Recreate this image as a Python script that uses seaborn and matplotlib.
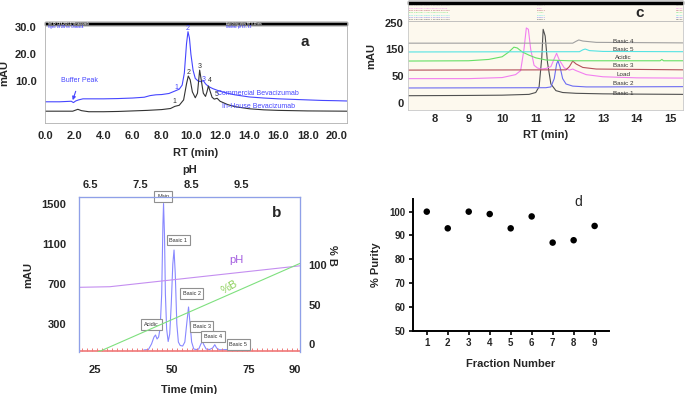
import numpy as np
import pandas as pd
import matplotlib
matplotlib.use("Agg")
import matplotlib.pyplot as plt
import seaborn as sns
from matplotlib.patches import Rectangle

# ---- panel a : analytical CEX traces (RT in min, mAU) ----
rt_com = [0.0, 1.0, 1.8, 1.95, 2.1, 2.3, 2.6, 3.0, 4.0, 5.0, 6.0, 6.8, 7.2, 7.6, 8.0, 8.5, 8.9,
          9.2, 9.4, 9.55, 9.7, 9.8, 9.9, 10.0, 10.15, 10.3, 10.5, 10.7, 10.85, 11.0, 11.2,
          11.5, 12.0, 12.5, 13.0, 14.0, 15.0, 16.0, 17.0, 18.0, 19.0, 20.0, 20.7]
mau_com = [2.3, 2.3, 2.5, 2.0, 2.6, 3.0, 3.4, 3.4, 3.4, 3.5, 3.7, 4.0, 4.6, 4.9, 5.0, 5.4, 6.3,
           7.0, 8.5, 13.0, 24.0, 28.4, 26.0, 20.0, 14.0, 11.0, 10.0, 9.8, 10.2, 9.0, 8.0,
           7.2, 6.2, 5.5, 4.9, 4.1, 3.7, 3.4, 3.2, 3.0, 2.8, 2.7, 2.6]
rt_inh = [0.0, 1.9, 2.1, 2.25, 2.5, 3.0, 4.0, 5.0, 6.0, 7.0, 8.0, 8.6, 8.9, 9.2, 9.5, 9.7,
          9.82, 9.95, 10.1, 10.3, 10.45, 10.6, 10.72, 10.85, 11.0, 11.1, 11.2, 11.3, 11.45,
          11.6, 11.8, 12.0, 12.5, 13.0, 14.0, 15.0, 16.0, 18.0, 20.7]
mau_inh = [-1.2, -1.2, -0.8, -0.5, -1.0, -1.4, -1.4, -1.3, -1.1, -0.9, -0.6, -0.2, 0.6, 1.0,
           3.0, 9.0, 11.9, 10.5, 6.0, 3.8, 5.5, 14.1, 10.0, 5.5, 4.3, 6.0, 8.2, 6.5, 4.0,
           3.3, 3.6, 2.5, 1.3, 0.5, -0.3, -0.7, -0.9, -1.1, -1.2]
peaks_com = [("1", 9.0, 7.6), ("2", 9.8, 29.6), ("3", 10.85, 10.6)]
peaks_inh = [("1", 8.9, 2.3), ("2", 9.85, 13.1), ("3", 10.6, 15.5), ("4", 11.3, 10.3), ("5", 11.75, 5.0)]

# ---- panel b : preparative pH gradient run ----
time_b = [41.0, 42.5, 43.5, 44.3, 44.8, 45.3, 45.8, 46.3, 46.8, 47.2, 47.4, 47.7, 48.0, 48.4,
          48.9, 49.4, 49.9, 50.4, 50.8, 51.2, 51.7, 52.2, 52.8, 53.6, 54.3, 54.9, 55.5, 56.0,
          56.5, 57.2, 58.0, 58.8, 59.5, 60.0, 60.5, 61.2, 62.3, 63.3, 64.0, 64.6, 65.5, 68.5,
          69.0, 69.5, 72.0]
mau_b = [40, 45, 100, 170, 190, 150, 170, 260, 600, 1300, 1505, 1200, 600, 250, 125, 200, 500,
         900, 1040, 800, 300, 120, 85, 80, 120, 300, 470, 300, 120, 50, 45, 50, 100, 126, 90,
         50, 45, 60, 93, 60, 42, 45, 55, 45, 40]
ph_time = [20.0, 30.0, 91.6]
ph_trace = [667, 673, 882]
pctb_time = [26.0, 91.6]
pctb = [-10, 102]
frac_marks = [21.0, 22.6, 24.2, 25.9, 27.5, 29.1, 30.7, 32.3, 33.9, 35.6, 37.2, 38.8, 40.4,
              42.0, 43.7, 45.3, 46.9, 48.5, 50.1, 51.8, 53.4, 55.0, 56.6, 58.2, 59.9, 61.5,
              63.1, 64.7, 66.3, 68.0, 69.6, 71.2, 72.8, 74.4, 76.1, 77.7, 79.3, 80.9, 82.5,
              84.2, 85.8, 87.4, 89.0, 90.6]
peak_boxes = [("Main", 47.3, 1573), ("Basic 1", 52.2, 1140), ("Basic 2", 56.5, 607),
              ("Acidic", 43.5, 297), ("Basic 3", 59.7, 273), ("Basic 4", 63.5, 173),
              ("Basic 5", 71.6, 97)]

# ---- panel c : overlay of collected fractions (stacked offsets) ----
traces_c = {
    "Basic 1": ([7.2, 9.0, 10.0, 10.8, 11.0, 11.1, 11.18, 11.22, 11.28, 11.35, 11.45, 11.6,
                 11.8, 12.2, 13.0, 14.0, 15.4],
                [-24, -23, -22, -19, -12, 10, 120, 225, 200, 100, 20, -5, -12, -15, -17, -18, -19]),
    "Basic 2": ([7.2, 11.3, 11.45, 11.55, 11.62, 11.66, 11.72, 11.8, 11.9, 12.1, 12.5, 13.0, 15.4],
                [5, 6, 9, 40, 95, 107, 85, 40, 20, 12, 9, 9, 10]),
    "Load": ([7.2, 9.0, 10.0, 10.4, 10.55, 10.65, 10.72, 10.78, 10.85, 10.95, 11.05, 11.15,
              11.3, 11.45, 11.55, 11.62, 11.7, 11.85, 12.0, 12.1, 12.2, 12.5, 13.0, 14.0, 15.4],
             [40, 40, 44, 55, 70, 150, 230, 225, 150, 90, 80, 76, 78, 85, 115, 135, 110, 80,
              72, 76, 70, 55, 47, 43, 42]),
    "Basic 3": ([7.2, 11.9, 12.0, 12.1, 12.2, 12.4, 12.8, 15.4],
                [72, 73, 85, 106, 95, 82, 76, 73]),
    "Acidic": ([7.2, 9.0, 9.6, 10.0, 10.2, 10.35, 10.45, 10.6, 10.8, 11.0, 11.3, 12.0, 14.7,
                14.75, 14.8, 15.4],
               [106, 107, 112, 122, 140, 158, 155, 140, 128, 118, 110, 107, 107, 112, 107, 107]),
    "Basic 5": ([7.2, 12.3, 12.4, 12.47, 12.6, 13.0, 15.4],
                [140, 141, 148, 151, 145, 142, 141]),
    "Basic 4": ([7.2, 12.1, 12.2, 12.28, 12.4, 12.8, 15.4],
                [173, 173, 180, 185, 181, 176, 174]),
}
colors_c = {"Basic 1": "#505050", "Basic 2": "#6d6df2", "Load": "#f27ff0", "Basic 3": "#b4505a",
            "Acidic": "#66e066", "Basic 5": "#55e3e3", "Basic 4": "#a0a0a0"}
label_y_c = {"Basic 4": 179, "Basic 5": 148, "Acidic": 120, "Basic 3": 89, "Load": 54,
             "Basic 2": 21, "Basic 1": -15}

# ---- panel d : purity of fractions ----
fraction = [1, 2, 3, 4, 5, 6, 7, 8, 9]
purity = [100, 93, 100, 99, 93, 98, 87, 88, 94]

sns.set_theme(style="white")
plt.rcParams['font.family'] = ['Liberation Sans', 'DejaVu Sans']
plt.rcParams['font.weight'] = 'bold'

fig = plt.figure(figsize=(6.85, 3.94), dpi=100)

# ================= panel a =================
blue_a = "#4646ff"
ax_a = fig.add_axes([0.0657, 0.6878, 0.4409, 0.2563])
sns.lineplot(x=rt_com, y=mau_com, ax=ax_a, color=blue_a, lw=0.8, sort=False)
sns.lineplot(x=rt_inh, y=mau_inh, ax=ax_a, color="#333333", lw=0.8, sort=False)
ax_a.set_xlim(0, 20.7)
ax_a.set_ylim(-5.6, 32)
ax_a.set_xticks(np.arange(0, 20.1, 2))
ax_a.set_xticklabels([f"{v:.1f}" for v in np.arange(0, 20.1, 2)], fontsize=8, fontweight='bold')
ax_a.set_yticks([10, 20, 30])
ax_a.set_yticklabels(["10.0", "20.0", "30.0"], fontsize=8, fontweight='bold')
ax_a.tick_params(length=0, pad=6)
ax_a.set_xlabel("RT (min)", fontsize=8, fontweight='bold', labelpad=5)
ax_a.set_ylabel("mAU", fontsize=8, fontweight='bold', labelpad=4)
for s in ax_a.spines.values():
    s.set_color("#b0b0b0")
    s.set_linewidth(0.6)
ax_a.add_patch(Rectangle((0, 0.97), 1, 0.03, transform=ax_a.transAxes, color="black", clip_on=False))
ax_a.axhline(30.9, color="#b0b0b0", lw=0.5)
ax_a.text(0.01, 0.985, "Intl. ID: CEX-2016-07 Bevacizumab", transform=ax_a.transAxes, fontsize=1.8,
          color="white", va='center')
ax_a.text(0.6, 0.985, "Auto-Integration: RT 0-20 min", transform=ax_a.transAxes, fontsize=1.8,
          color="white", va='center')
ax_a.text(0.01, 0.955, "Signal: UV 280 nm  Channel A", transform=ax_a.transAxes, fontsize=1.8,
          color=blue_a, va='center')
ax_a.text(0.6, 0.955, "Gradient: pH 6.5 - 9.5", transform=ax_a.transAxes, fontsize=1.8,
          color=blue_a, va='center')
for lab, x, y in peaks_com:
    ax_a.text(x, y, lab, color=blue_a, fontsize=5, ha='center', va='center', fontweight='normal')
for lab, x, y in peaks_inh:
    ax_a.text(x, y, lab, color="#333333", fontsize=5, ha='center', va='center', fontweight='normal')
ax_a.annotate("Buffer Peak", xy=(1.9, 2.9), xytext=(2.35, 10.2), color=blue_a, fontsize=5,
              fontweight='normal', ha='center', va='center',
              arrowprops=dict(arrowstyle="-|>", color=blue_a, lw=0.8, mutation_scale=5,
                              shrinkA=3, shrinkB=0))
ax_a.text(14.6, 5.3, "Commercial Bevacizumab", color=blue_a, fontsize=5, ha='center',
          va='center', fontweight='normal')
ax_a.text(14.6, 0.7, "In-House Bevacizumab", color=blue_a, fontsize=5, ha='center',
          va='center', fontweight='normal')
ax_a.text(17.8, 24.5, "a", fontsize=11, fontweight='bold', ha='center', va='center')

# ================= panel c =================
ax_c = fig.add_axes([0.5956, 0.7208, 0.4015, 0.2766])
ax_c.set_facecolor("#fdf9ee")
for name, (xs, ys) in traces_c.items():
    sns.lineplot(x=xs, y=ys, ax=ax_c, color=colors_c[name], lw=0.8, sort=False)
    ax_c.text(13.6, label_y_c[name], name, fontsize=4.5, color="#333333", ha='center',
              va='center', fontweight='normal')
ax_c.set_xlim(7.2, 15.38)
ax_c.set_ylim(-77.6, 331)
ax_c.axhline(257.5, color="#b8b8b8", lw=0.6)
ax_c.add_patch(Rectangle((0, 0.975), 1, 0.025, transform=ax_c.transAxes, color="black", clip_on=False))
header_rows = ["Basic 4", "Load", "Basic 3", "Acidic", "Basic 5", "Basic 2", "Basic 1"]
for i, name in enumerate(header_rows):
    yy = 0.955 - i * 0.021
    col = colors_c[name]
    ax_c.text(0.005, yy, "Bev CEX frac " + name + " 280nm 07/2016", transform=ax_c.transAxes,
              fontsize=1.7, color=col, va='center', fontweight='normal')
    ax_c.text(0.47, yy, name, transform=ax_c.transAxes, fontsize=1.7, color=col, va='center',
              fontweight='normal')
    ax_c.text(0.975, yy, "UV280", transform=ax_c.transAxes, fontsize=1.7, color=col, va='center',
              fontweight='normal')
ax_c.set_xticks(range(8, 16))
ax_c.set_xticklabels([str(v) for v in range(8, 16)], fontsize=8, fontweight='bold')
ax_c.set_yticks([-50, 50, 150, 250])
ax_c.set_yticklabels(["0", "50", "150", "250"], fontsize=8, fontweight='bold')
ax_c.tick_params(length=0, pad=3)
ax_c.set_xlabel("RT (min)", fontsize=8, fontweight='bold', labelpad=4)
ax_c.set_ylabel("mAU", fontsize=8, fontweight='bold', labelpad=6)
for s in ax_c.spines.values():
    s.set_color("#c8c8c8")
    s.set_linewidth(0.6)
ax_c.text(14.1, 286, "c", fontsize=11, fontweight='bold', ha='center', va='center')

# ================= panel b =================
frame_b = "#8fa0e8"
ax_b = fig.add_axes([0.1153, 0.1058, 0.3226, 0.3949])
sns.lineplot(x=time_b, y=mau_b, ax=ax_b, color="#8888ff", lw=0.8, sort=False)
sns.lineplot(x=ph_time, y=ph_trace, ax=ax_b, color="#c48ef0", lw=0.8, sort=False)
ax_b.hlines(30, 20, 91.6, color="#f07878", lw=1.2)
ax_b.vlines(frac_marks, 30, 63, color="#f07878", lw=0.7)
ax_b.set_xlim(20, 91.6)
ax_b.set_ylim(17, 1573)
ax_b.set_xticks([25, 50, 75, 90])
ax_b.set_xticklabels(["25", "50", "75", "90"], fontsize=8, fontweight='bold')
ax_b.set_yticks([300, 700, 1100, 1500])
ax_b.set_yticklabels(["300", "700", "1100", "1500"], fontsize=8, fontweight='bold')
ax_b.tick_params(length=0, pad=9)
ax_b.set_xlabel("Time (min)", fontsize=8, fontweight='bold', labelpad=7)
ax_b.set_ylabel("mAU", fontsize=8, fontweight='bold', labelpad=6)
for lab, t, y in peak_boxes:
    ax_b.text(t, y, lab, fontsize=4, ha='center', va='center', fontweight='normal',
              color="#333333",
              bbox=dict(boxstyle="square,pad=0.5", fc="white", ec="#909090", lw=0.8))
ax_b.text(71, 940, "pH", color="#a45ee0", fontsize=8, fontweight='normal', ha='center', va='center')
ax_b.text(68.9, 673, "%B", color="#8cd05a", fontsize=8, fontweight='normal', ha='center',
          va='center', rotation=30)
ax_b.text(84, 1413, "b", fontsize=11, fontweight='bold', ha='center', va='center')

ax_b2 = ax_b.twinx()
sns.lineplot(x=pctb_time, y=pctb, ax=ax_b2, color="#7ee07e", lw=0.8, sort=False)
ax_b2.set_ylim(-10, 186)
ax_b2.set_yticks([0, 50, 100])
ax_b2.set_yticklabels(["0", "50", "100"], fontsize=8, fontweight='bold')
ax_b2.tick_params(length=0, pad=6)
ax_b2.set_ylabel("% B", fontsize=8, fontweight='bold', rotation=270, labelpad=4)
ax_b2.yaxis.set_label_coords(1.166, 0.625)

ax_top = ax_b.twiny()
ax_top.set_xlim(6.28, 10.65)
ax_top.set_xticks([6.5, 7.5, 8.5, 9.5])
ax_top.set_xticklabels(["6.5", "7.5", "8.5", "9.5"], fontsize=8, fontweight='bold')
ax_top.tick_params(length=0, pad=5)
ax_top.set_xlabel("pH", fontsize=8, fontweight='bold', labelpad=5)
for a in (ax_b, ax_b2, ax_top):
    for s in a.spines.values():
        s.set_color(frame_b)
        s.set_linewidth(0.8)
    a.spines['bottom'].set_visible(False)

# ================= panel d =================
ax_d = fig.add_axes([0.6025, 0.1607, 0.287, 0.3335])
sns.scatterplot(x=fraction, y=purity, ax=ax_d, color="black", s=22, edgecolor="none")
ax_d.set_xlim(0.33, 9.7)
ax_d.set_ylim(50, 105.2)
ax_d.set_xticks(fraction)
ax_d.set_yticks(range(50, 101, 10))
ax_d.tick_params(axis='both', length=3, width=1.2, color="black", labelsize=7, pad=2,
                 direction='out', bottom=True, left=True)
for lab in ax_d.get_xticklabels() + ax_d.get_yticklabels():
    lab.set_fontweight('bold')
ax_d.spines['top'].set_visible(False)
ax_d.spines['right'].set_visible(False)
for side in ('left', 'bottom'):
    ax_d.spines[side].set_color("black")
    ax_d.spines[side].set_linewidth(1.4)
ax_d.set_xlabel("Fraction Number", fontsize=8, fontweight='bold', labelpad=8)
ax_d.set_ylabel("% Purity", fontsize=8, fontweight='bold', labelpad=6)
ax_d.text(8.2, 104.2, "d", fontsize=10, fontweight='normal', ha='center', va='center')

fig.savefig("out.png", dpi=100)
